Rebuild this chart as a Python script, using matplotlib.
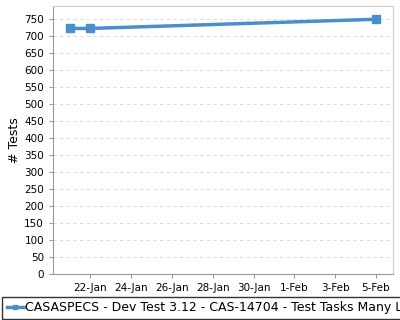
import numpy as np
import matplotlib.pyplot as plt
import matplotlib.dates as mdates
import pandas as pd

dates = pd.to_datetime(["2014-01-21", "2014-01-22", "2014-02-05"])
tests = [722, 722, 749]
series_name = "CASASPECS - Dev Test 3.12 - CAS-14704 - Test Tasks Many Links"

fig = plt.figure(figsize=(4, 3.2), dpi=100)
ax = fig.add_axes([53/400, 46/320, 340/400, 268/320])

ax.plot(dates, tests, color="#4a8fcc", lw=2.5, marker="s", ms=5.5, label=series_name)

ax.set_ylim(0, 788)
ax.set_yticks(range(0, 751, 50))
ax.set_xlim(pd.Timestamp("2014-01-20 04:00"), pd.Timestamp("2014-02-05 20:00"))
ax.xaxis.set_major_locator(mdates.DayLocator(bymonthday=[22, 24, 26, 28, 30, 1, 3, 5]))
ax.xaxis.set_major_formatter(mdates.DateFormatter("%-d-%b"))
ax.tick_params(labelsize=7.5, length=3, color="#999999")
ax.yaxis.grid(True, ls=(0, (3, 3)), color="#dddddd", lw=0.8)
ax.set_axisbelow(True)
ax.set_ylabel("# Tests", fontsize=9, labelpad=2)
for s in ["left", "bottom"]:
    ax.spines[s].set_color("#999999")
for s in ["top", "right"]:
    ax.spines[s].set_color("#cccccc")

leg = fig.legend(loc="lower left", bbox_to_anchor=(1/400, 0), fontsize=9.0,
                 frameon=True, fancybox=False, edgecolor="black", borderpad=0.35,
                 handlelength=1.4, handletextpad=0.1, markerscale=0.6,
                 borderaxespad=0.1)
leg.get_frame().set_linewidth(1)

fig.savefig("out.png")
